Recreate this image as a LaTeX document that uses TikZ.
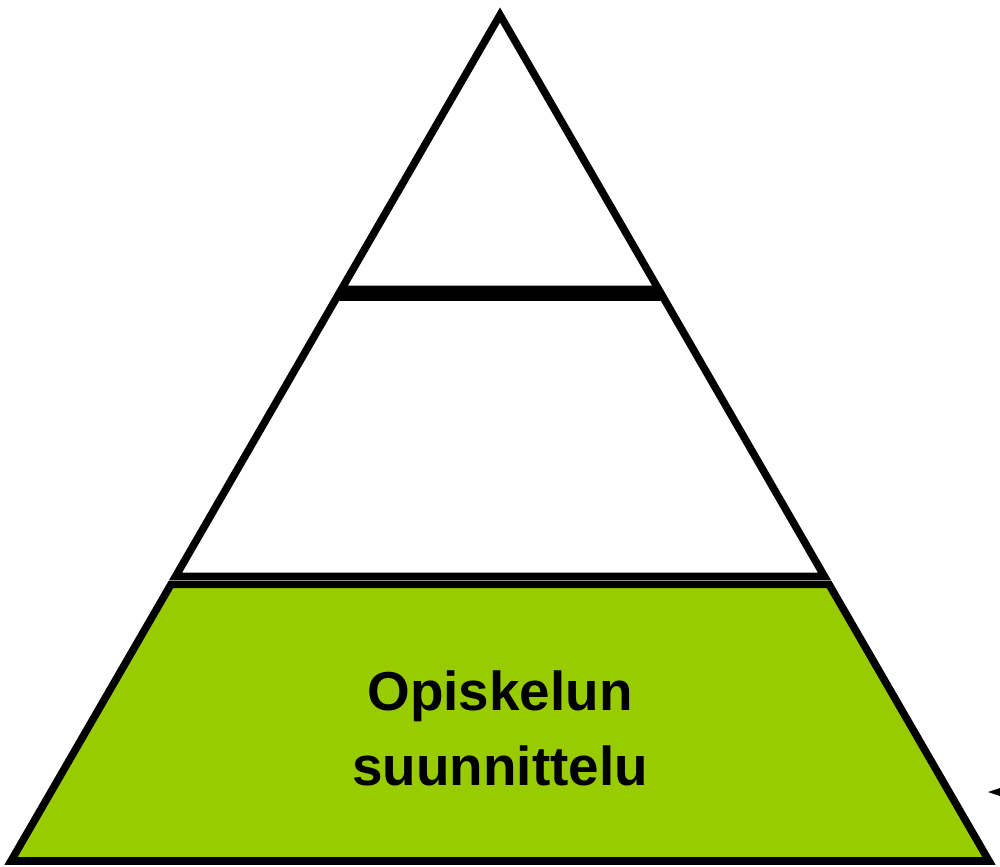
\documentclass[tikz,border=0pt]{standalone}
\usepackage{fontspec}
\setmainfont{Liberation Sans}
\usepackage{tikz}
\usetikzlibrary{arrows.meta}
\definecolor{levelgreen}{HTML}{99CC00}
\tikzstyle{layer} = [draw=black,line width=2.15pt,line join=miter]

\begin{document}
\begin{tikzpicture}[x=0.01cm,y=-0.01cm,
  label text/.style={font=\bfseries\fontsize{15.6}{21.3}\selectfont,align=center}]

  \useasboundingbox (0,0) rectangle (1000,866);

  % pyramid levels
  \path[layer,fill=white] (500,15) -- (658.7,289.5) -- (341.3,289.5) -- cycle;
  \path[layer,fill=white] (337,297) -- (663,297) -- (824.4,576.3) -- (175.6,576.3) -- cycle;
  \path[layer,fill=levelgreen] (171,584.3) -- (829,584.3) -- (989,861) -- (11,861) -- cycle;

  \node[label text] (planning) at (500,728) {Opiskelun\\suunnittelu};

  % arrow coming in from the right
  \coordinate (arrowstart) at (1060,792);
  \coordinate (arrowtip) at (988,792);
  \draw[line width=0.3pt,-{Triangle[length=4pt,width=2.6pt]}] (arrowstart) -- (arrowtip);

\end{tikzpicture}
\end{document}
